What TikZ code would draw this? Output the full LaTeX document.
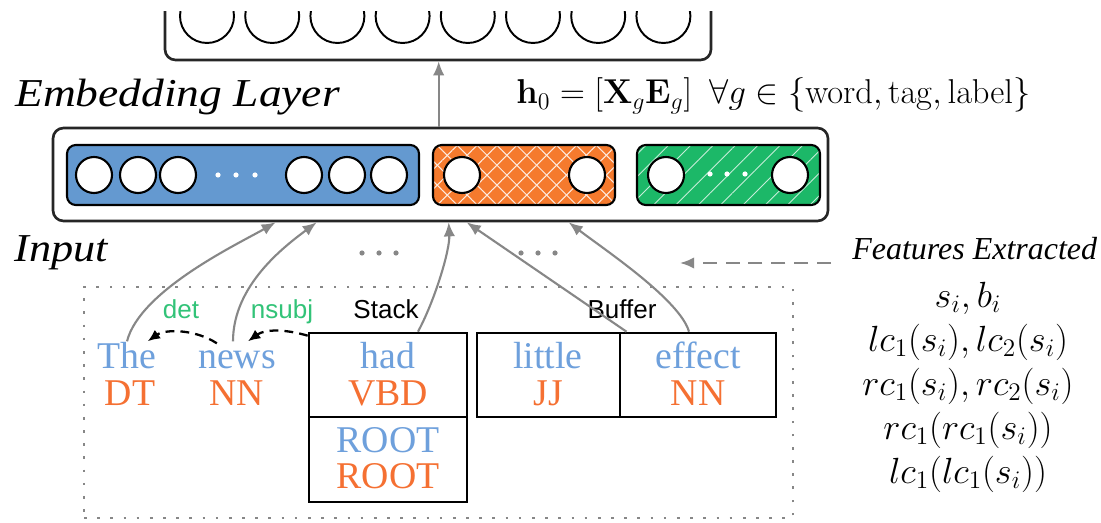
\documentclass[tikz,border=0pt]{standalone}
\usepackage[no-math]{fontspec}
\usepackage{graphicx}
\usetikzlibrary{arrows.meta,calc,fit,patterns.meta}
\newfontfamily\tms{Liberation Serif}
\newfontfamily\hlv{Liberation Sans}
\definecolor{bblue}{RGB}{100,153,208}
\definecolor{borange}{RGB}{245,122,45}
\definecolor{bgreen}{RGB}{28,184,104}
\definecolor{wblue}{RGB}{110,160,220}
\definecolor{torange}{RGB}{245,112,50}
\definecolor{lgreen}{RGB}{50,195,120}
\definecolor{agray}{RGB}{135,135,135}
\tikzset{
  wordtxt/.style={inner sep=0pt, anchor=base, font=\tms\fontsize{21.5}{26}\selectfont, text=wblue, text height=15pt, text depth=4pt},
  tagtxt/.style={wordtxt, text=torange},
  sanslab/.style={inner sep=0pt, anchor=base, font=\hlv\fontsize{14.8}{17}\selectfont},
  garrow/.style={draw=agray, line width=1.2pt, -{Latex[length=8pt,width=6.5pt]}},
  deparrow/.style={draw=black, line width=1.3pt, dash pattern=on 5pt off 3.5pt, -{Latex[length=7pt,width=6pt]}},
  cellbox/.style={draw=black, line width=1.5pt, inner sep=0pt},
  bigbox/.style={draw=black!85, line width=1.5pt, inner sep=0pt, rounded corners=6pt},
  embbox/.style={inner sep=0pt, rounded corners=5pt},
  unit/.style={draw=black, line width=1.2pt, fill=white},
  wdot/.style={fill=white},
  mathtxt/.style={inner sep=0pt, anchor=base, font=\fontsize{21}{25}\selectfont},
}
\begin{document}
\begin{tikzpicture}[x=0.02cm, y=-0.02cm]
\useasboundingbox (0,0) rectangle (1101,523);
\fill[white] (0,0) rectangle (1101,523);

% hidden layer box (top, cut off)
\begin{scope}
\clip (0,12) rectangle (1101,523);
\node[bigbox, fit={(165,-40) (711,60)}] (hid) {};
\foreach \i in {0,...,7} \draw[unit, line width=1.1pt] (207+65.2*\i,16) circle [radius=27];
\end{scope}

% labels
\node[inner sep=0pt, anchor=base west] (emblab) at (15,107) {\scalebox{1.15}[1]{\tms\itshape\fontsize{22.5}{26}\selectfont Embedding Layer}};
\node[inner sep=0pt, anchor=base west] (inlab) at (14,262) {\scalebox{1.12}[1]{\tms\itshape\fontsize{22.5}{26}\selectfont Input}};
\node[inner sep=0pt, anchor=base west] (formula) at (516,104)
  {\scalebox{0.946}{\fontsize{20.74}{25}\selectfont$\mathbf{h}_0=[\mathbf{X}_g\mathbf{E}_g]\hspace{0.5em}\forall g\in\{\mathrm{word},\mathrm{tag},\mathrm{label}\}$}};
\node[inner sep=0pt, anchor=base west, font=\tms\itshape\fontsize{18.2}{22}\selectfont] (feat) at (852,260) {Features Extracted};

% embedding layer
\node[bigbox, fit={(53,128) (828,221)}] (emb) {};
\node[embbox, fit={(67,145) (419,205)}, fill=bblue, draw=black, line width=1.2pt] (wemb) {};
\foreach \x in {94,138,178,304,347,389} \draw[unit] (\x,175) circle [radius=18];
\foreach \x in {218,236,255} \fill[wdot] (\x,175) circle [radius=2.6];

\node[embbox, fit={(433,145) (615,205)}, fill=borange,
  postaction={pattern={Lines[angle=45,distance=8pt,line width=0.6pt]}, pattern color=white!85!borange},
  postaction={pattern={Lines[angle=-45,distance=8pt,line width=0.6pt]}, pattern color=white!85!borange},
  postaction={draw=black, line width=1.2pt}] (temb) {};
\foreach \x in {462,587} \draw[unit] (\x,175) circle [radius=18];

\node[embbox, fit={(637,145) (820,205)}, fill=bgreen,
  postaction={pattern={Lines[angle=45,distance=9pt,line width=0.5pt]}, pattern color=white!75!bgreen},
  postaction={draw=black, line width=1.2pt}] (lemb) {};
\foreach \x in {666,790} \draw[unit] (\x,175) circle [radius=18];
\foreach \x in {710,727,745} \fill[wdot] (\x,174) circle [radius=2.6];

\draw[garrow] ($(emb.north west)+(387,0)$) -- ($(hid.south west)+(275,0)$);

% dots between arrows
\foreach \x in {362,379,396,521,538,555} \fill[agray] (\x,253) circle [radius=2.6];

% features extracted arrow
\coordinate (fstart) at (831,263);
\coordinate (fend) at (680,263);
\draw[draw=agray, line width=1.3pt, dash pattern=on 8pt off 5pt, -{Latex[length=8pt,width=6.5pt]}] (fstart) -- (fend);

% input area
\node[fit={(84,287) (793,518)}, inner sep=0pt, draw=agray, line width=1.5pt, dash pattern=on 1.5pt off 6pt] (inbox) {};

\node[wordtxt] (the) at (127,368) {The};
\node[tagtxt] (dt) at (130,405) {DT};
\node[wordtxt] (news) at (237,368) {news};
\node[tagtxt] (nn1) at (237,405) {NN};

\node[cellbox, fit={(309,333) (467,417)}] (s1) {};
\node[cellbox, fit={(309,417) (467,502)}] (s2) {};
\node[cellbox, fit={(477,333) (620,417)}] (b1) {};
\node[cellbox, fit={(620,333) (776,417)}] (b2) {};

\node[wordtxt] (had) at (388,368) {had};
\node[tagtxt] (vbd) at (388,405) {VBD};
\node[wordtxt] (root1) at (388,452) {ROOT};
\node[tagtxt] (root2) at (388,488) {ROOT};
\node[wordtxt] (little) at (548,368) {little};
\node[tagtxt] (jj) at (548,405) {JJ};
\node[wordtxt] (effect) at (698,368) {effect};
\node[tagtxt] (nn2) at (698,405) {NN};

\node[sanslab] (stack) at (386,318) {Stack};
\node[sanslab] (buffer) at (622,318) {Buffer};
\node[sanslab, text=lgreen] (det) at (181,318) {det};
\node[sanslab, text=lgreen] (nsubj) at (282,318) {nsubj};

% dependency arcs
\draw[deparrow] ($(s1.north west)+(0,4)$) .. controls (285,329) and (265,329) .. ($(news.north)+(11,0)$);
\draw[deparrow] ($(news.north west)+(19,2)$) .. controls (195,329) and (165,329) .. ($(the.north east)+(-9,0)$);

% feature arrows to embedding layer
\draw[garrow] (the.north) .. controls (140,290) and (240,243) .. ($(emb.south west)+(224,0)$);
\draw[garrow] ($(news.north)+(-4,0)$) .. controls (233,285) and (285,246) .. ($(emb.south west)+(265,0)$);
\draw[garrow] ($(s1.north)+(30,0)$) .. controls (435,300) and (450,250) .. ($(emb.south west)+(397,0)$);
\draw[garrow] ($(b1.north)+(78,0)$) -- ($(emb.south west)+(415,0)$);
\draw[garrow] ($(b2.north)+(-9,0)$) .. controls (680,300) and (605,250) .. ($(emb.south west)+(517,0)$);

% extracted features list
\node[mathtxt] (f1) at (968,307) {$s_i,b_i$};
\node[mathtxt] (f2) at (968,351) {$lc_1(s_i),lc_2(s_i)$};
\node[mathtxt] (f3) at (968,395) {$rc_1(s_i),rc_2(s_i)$};
\node[mathtxt] (f4) at (968,439) {$rc_1(rc_1(s_i))$};
\node[mathtxt] (f5) at (968,483) {$lc_1(lc_1(s_i))$};
\end{tikzpicture}
\end{document}
